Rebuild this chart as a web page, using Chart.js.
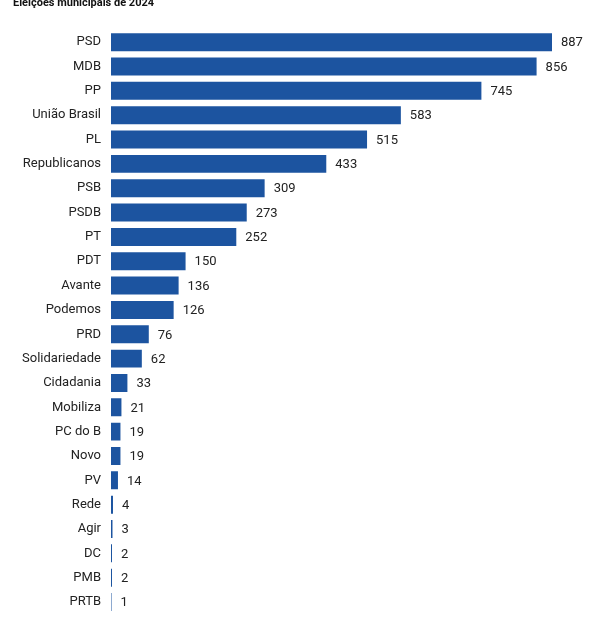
<!DOCTYPE html>
<html>
<head>
<meta charset="utf-8">
<script src="https://cdn.jsdelivr.net/npm/chart.js@4"></script>
<style>
  html, body { margin: 0; padding: 0; background: #fff; overflow: hidden; }
  #wrap { position: relative; width: 598px; height: 632px; }
</style>
</head>
<body>
<div id="wrap"><canvas id="myChart"></canvas></div>
<script>
    "use strict";

    const titleText = 'Eleiçoes municipais de 2024';
    const parties = ['PSD', 'MDB', 'PP', 'União Brasil', 'PL', 'Republicanos', 'PSB', 'PSDB', 'PT', 'PDT',
        'Avante', 'Podemos', 'PRD', 'Solidariedade', 'Cidadania', 'Mobiliza', 'PC do B', 'Novo', 'PV',
        'Rede', 'Agir', 'DC', 'PMB', 'PRTB'];
    const prefeitos = [887, 856, 745, 583, 515, 433, 309, 273, 252, 150,
        136, 126, 76, 62, 33, 21, 19, 19, 14,
        4, 3, 2, 2, 1];

    const fontFamily = "Roboto, 'Noto Sans', sans-serif";

    // title + value labels
    const extras = {
        id: 'extras',
        afterDatasetsDraw(chart) {
            const ctx = chart.ctx;
            ctx.save();
            ctx.fillStyle = '#222';
            ctx.font = '13px ' + fontFamily;
            ctx.textBaseline = 'middle';
            ctx.textAlign = 'left';
            chart.getDatasetMeta(0).data.forEach(function (bar, i) {
                ctx.fillText(prefeitos[i], bar.x + 9, bar.y + 1);
            });
            ctx.font = 'bold 11px ' + fontFamily;
            ctx.fillStyle = '#111';
            ctx.fillText(titleText, 13, 3);
            ctx.restore();
        }
    };

    var ctx = document.getElementById('myChart');
    var chart = new Chart(ctx, {
        type: 'bar',
        data: {
            labels: parties,
            datasets: [{
                label: 'Prefeitos',
                backgroundColor: '#1c54a0',
                barPercentage: 0.82,
                categoryPercentage: 0.9,
                data: prefeitos
            }]
        },
        options: {
            indexAxis: 'y',
            responsive: true,
            maintainAspectRatio: false,
            animation: false,
            layout: {
                padding: { top: 30, right: 46, bottom: 5, left: 0 }
            },
            plugins: {
                legend: { display: false },
                tooltip: { enabled: false }
            },
            scales: {
                x: {
                    display: false,
                    min: 0,
                    max: 887
                },
                y: {
                    grid: { display: false, drawTicks: false },
                    border: { display: false },
                    afterFit: function (scale) { scale.width = 111; },
                    ticks: {
                        padding: 10,
                        color: '#222',
                        font: { size: 13, family: fontFamily }
                    }
                }
            }
        },
        plugins: [extras]
    });
</script>
</body>
</html>
